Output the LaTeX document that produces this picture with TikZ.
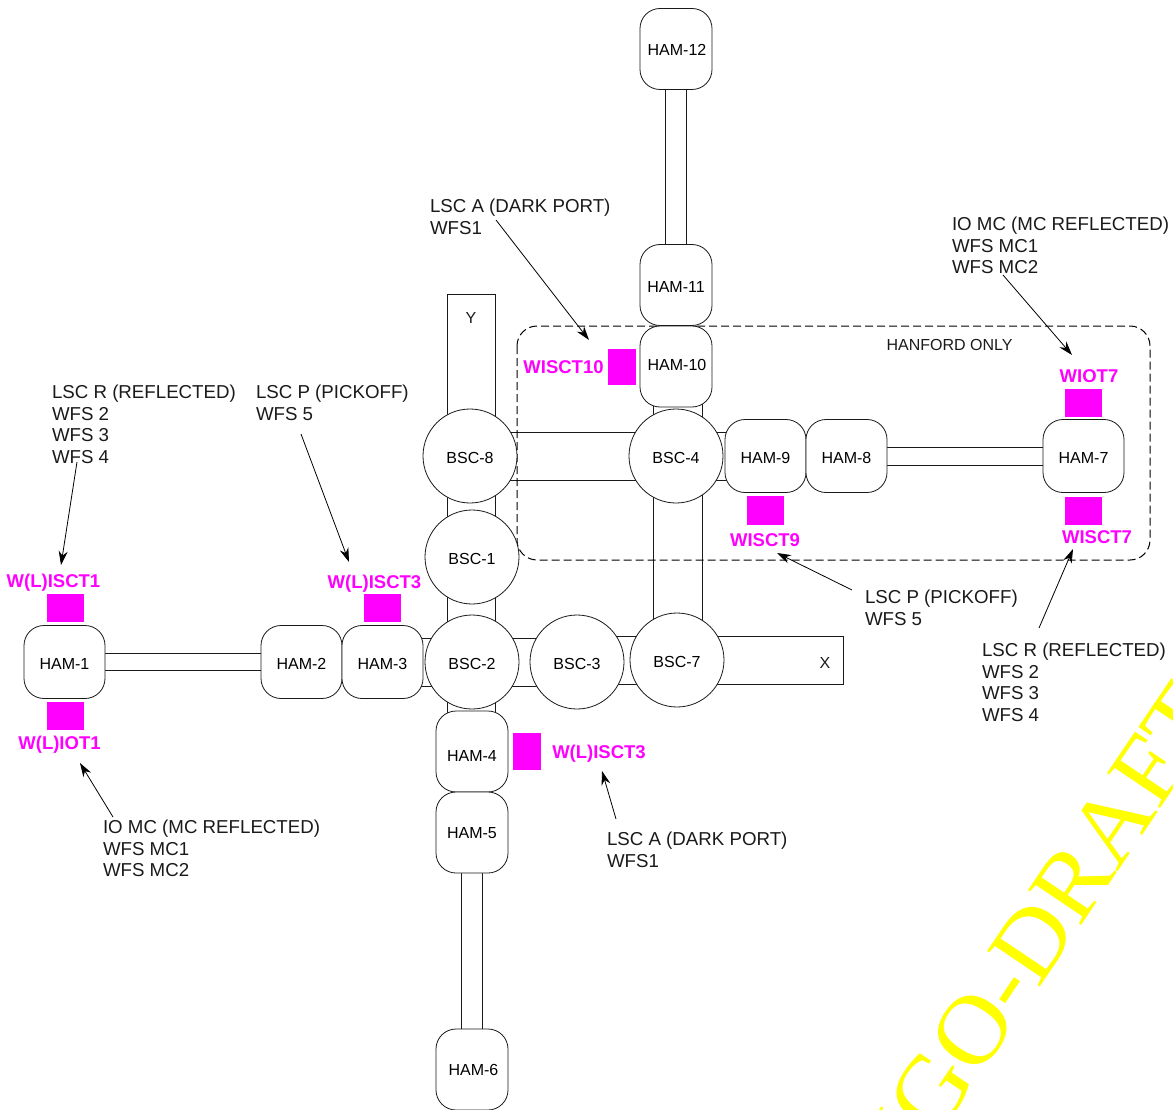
\documentclass[tikz,border=0pt]{standalone}
\usepackage{fontspec}
\usepackage{tikz}
\usetikzlibrary{arrows.meta,backgrounds}
\setmainfont{Liberation Sans}
\newfontfamily\draftfont[FakeStretch=1.05]{Liberation Serif}
\definecolor{port}{HTML}{FF00FF}
\definecolor{draft}{HTML}{FFFF00}
\definecolor{edge}{HTML}{1A1A1A}
\newcommand{\vtube}[3]{%
  \draw[tube] ([xshift=-#3]#1.center) -- ([xshift=-#3]#2.center);
  \draw[tube] ([xshift=#3]#1.center) -- ([xshift=#3]#2.center);}
\newcommand{\htube}[3]{%
  \draw[tube] ([yshift=-#3]#1.center) -- ([yshift=-#3]#2.center);
  \draw[tube] ([yshift=#3]#1.center) -- ([yshift=#3]#2.center);}
\tikzset{
  every node/.style={inner sep=0pt,outer sep=0pt},
  ham/.style={draw=edge,fill=white,line width=.8pt,rounded corners=20pt,
              font=\fontsize{16}{18}\selectfont,text height=14pt,text depth=0pt},
  hamwide/.style={ham,minimum width=81pt,minimum height=73pt},
  hamtall/.style={ham,minimum width=72pt,minimum height=81pt},
  bsc/.style={circle,draw=edge,fill=white,line width=.8pt,minimum size=94pt,
              font=\fontsize{16}{18}\selectfont,text height=14pt,text depth=0pt},
  arm/.style={rectangle,draw=edge,fill=white,line width=.8pt},
  tube/.style={draw=edge,line width=.8pt},
  table/.style={rectangle,fill=port},
  port/.style={font=\fontsize{18.5}{21}\selectfont\bfseries,color=port},
  note/.style={anchor=north west,align=left,font=\fontsize{18.7}{21.5}\selectfont,color=edge},
  lab/.style={font=\fontsize{16}{18}\selectfont,color=edge},
  ar/.style={-{Stealth[length=14pt,width=9pt]},draw=black,line width=.8pt},
}
\begin{document}
\begin{tikzpicture}[x=1pt,y=-1pt]
\useasboundingbox (0,0) rectangle (1173,1110);

% watermark
\begin{scope}
\clip (0,0) rectangle (1173,1110);
\node[rotate=56,anchor=base,font=\draftfont\fontsize{97}{97}\selectfont,color=draft] (wm) at (1054,966) {LIGO-DRAFT};
\end{scope}

% ham chambers, left arm
\node[hamwide] (ham1) at (64.5,662) {HAM-1};
\node[hamwide] (ham2) at (301.5,662) {HAM-2};
\node[hamwide] (ham3) at (382.5,662) {HAM-3};

% lower arm
\node[hamtall] (ham4) at (472,751.5) {\raisebox{-3pt}{HAM-4}};
\node[hamtall] (ham5) at (472,832.5) {\raisebox{1pt}{HAM-5}};
\node[hamtall] (ham6) at (472,1069.5) {\raisebox{1pt}{\hspace{3pt}HAM-6}};

% upper arm
\node[hamtall] (ham12) at (676,49) {\hspace{2pt}HAM-12};
\node[hamtall] (ham11) at (676,285) {HAM-11\hspace{4pt}};
\node[hamtall] (ham10) at (676,366.5) {\raisebox{3pt}{\hspace{2pt}HAM-10}};

% right arm
\node[hamwide] (ham9) at (765.5,456) {HAM-9};
\node[hamwide] (ham8) at (846.5,456) {HAM-8};
\node[hamwide] (ham7) at (1083.5,456) {HAM-7};

% bsc chambers
\node[bsc] (bsc8) at (470,456) {BSC-8};
\node[bsc] (bsc1) at (472,557) {BSC-1};
\node[bsc] (bsc2) at (472,662) {BSC-2};
\node[bsc] (bsc3) at (577,662) {BSC-3};
\node[bsc] (bsc4) at (676,456) {BSC-4};
\node[bsc] (bsc7) at (677,660) {BSC-7};

% beam tubes, behind the chambers
\begin{scope}[on background layer]
\node[arm,minimum width=48pt,minimum height=426pt] (yarm) at (471,507) {};
\node[arm,minimum width=243pt,minimum height=48pt] (xarm) at (721.5,660) {};
\htube{ham3}{bsc3}{24pt}
\htube{bsc8}{ham9}{24pt}
\draw[tube] ([xshift=-23pt]ham10.center) -- ([xshift=-24pt]bsc7.center);
\draw[tube] ([xshift=26pt]ham10.center) -- ([xshift=25pt]bsc7.center);
\htube{ham1}{ham2}{8.5pt}
\htube{ham8}{ham7}{9pt}
\vtube{ham12}{ham11}{10.5pt}
\vtube{ham5}{ham6}{10.5pt}
\draw[draw=black,line width=1pt,dash pattern=on 8pt off 4pt,rounded corners=20pt] (517,326) rectangle (1150,560);
\end{scope}
\node[lab] (ylab) at (471,318) {Y};
\node[lab] (xlab) at (825,663) {X};
\node[lab] (hanford) at (949.5,344.5) {HANFORD ONLY};

% optics tables
\node[table,minimum width=37pt,minimum height=28pt] (isct1) at (65,608) {};
\node[table,minimum width=37pt,minimum height=28pt] (iot1) at (65,716) {};
\node[table,minimum width=37pt,minimum height=28pt] (isct3up) at (382.5,608) {};
\node[table,minimum width=28pt,minimum height=37pt] (isct3low) at (526.5,751.5) {};
\node[table,minimum width=28pt,minimum height=36pt] (isct10) at (622,367) {};
\node[table,minimum width=37pt,minimum height=29pt] (isct9) at (765.5,510.5) {};
\node[table,minimum width=37pt,minimum height=28pt] (iot7) at (1083.5,403) {};
\node[table,minimum width=37pt,minimum height=28pt] (isct7) at (1083.5,511) {};

\node[port] (isct1lab) at (53.5,582.5) {W(L)ISCT1};
\node[port] (iot1lab) at (59.5,744.5) {W(L)IOT1};
\node[port] (isct3uplab) at (374.5,583.5) {W(L)ISCT3};
\node[port] (isct3lowlab) at (599,753.5) {W(L)ISCT3};
\node[port] (isct10lab) at (563.5,367) {WISCT10};
\node[port] (isct9lab) at (765,540) {WISCT9};
\node[port] (iot7lab) at (1089,376) {WIOT7};
\node[port] (isct7lab) at (1097,537) {WISCT7};

% readouts
\node[note] (rleft) at (52,385) {LSC R (REFLECTED)\\WFS 2\\WFS 3\\WFS 4};
\node[note] (pleft) at (256,385) {LSC P (PICKOFF)\\WFS 5};
\node[note] (ioleft) at (103,820) {IO MC (MC REFLECTED)\\WFS MC1\\WFS MC2};
\node[note] (alow) at (607,832) {LSC A (DARK PORT)\\WFS1};
\node[note] (atop) at (430,199) {LSC A (DARK PORT)\\WFS1};
\node[note] (ioright) at (952,217) {IO MC (MC REFLECTED)\\WFS MC1\\WFS MC2};
\node[note] (pright) at (865,590) {LSC P (PICKOFF)\\WFS 5};
\node[note] (rright) at (982,643) {LSC R (REFLECTED)\\WFS 2\\WFS 3\\WFS 4};

% arrow heads stop short of the labels
\coordinate (rlefthead) at (61,565);
\coordinate (plefthead) at (349,562);
\coordinate (iolefthead) at (80,763);
\coordinate (alowhead) at (602,771);
\coordinate (atophead) at (589,340);
\coordinate (iorighthead) at (1072,355);
\coordinate (prighthead) at (777,553);
\coordinate (rrighthead) at (1073,549);
\draw[ar] ([shift={(25,77)}]rleft.north west) -- (rlefthead);
\draw[ar] ([shift={(45,49)}]pleft.north west) -- (plefthead);
\draw[ar] ([shift={(10,-3)}]ioleft.north west) -- (iolefthead);
\draw[ar] ([shift={(9,-13)}]alow.north west) -- (alowhead);
\draw[ar] ([shift={(66,21)}]atop.north west) -- (atophead);
\draw[ar] ([shift={(51,58)}]ioright.north west) -- (iorighthead);
\draw[ar] ([shift={(-13,0)}]pright.north west) -- (prighthead);
\draw[ar] ([shift={(57,-15)}]rright.north west) -- (rrighthead);
\end{tikzpicture}
\end{document}
